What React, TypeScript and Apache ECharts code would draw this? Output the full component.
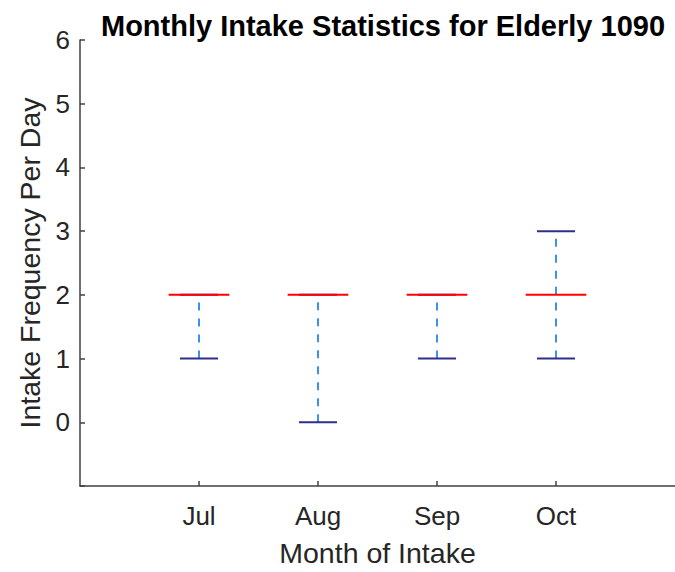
import React, { useEffect, useRef } from "react";
import * as echarts from "echarts";

const months = ["Jul", "Aug", "Sep", "Oct"];
const minVals = [1, 0, 1, 1];
const q1Vals = [2, 2, 2, 2];
const medianVals = [2, 2, 2, 2];
const q3Vals = [2, 2, 2, 2];
const maxVals = [2, 2, 2, 3];
const yTicks = [0, 1, 2, 3, 4, 5, 6];

const TEXT = "#262626";
const AXIS = "#404040";

export default function App() {
  const ref = useRef<HTMLDivElement>(null);
  useEffect(() => {
    if (!ref.current) return;
    const chart = echarts.init(ref.current, null, { renderer: "svg" });
    const data = months.map((_, i) => [
      i + 1,
      minVals[i],
      q1Vals[i],
      medianVals[i],
      q3Vals[i],
      maxVals[i],
    ]);
    const xTickPositions = months.map((_, i) => i + 1);
    const option = {
      animation: false,
      backgroundColor: "#ffffff",
      title: {
        text: "Monthly Intake Statistics for Elderly 1090",
        left: 378,
        textAlign: "center",
        top: 6,
        textStyle: {
          fontFamily: "Liberation Sans",
          fontWeight: "bold",
          fontSize: 29,
          color: "#000000",
        },
      },
      grid: { left: 80, right: -1, top: 40, bottom: 82 },
      xAxis: {
        type: "value",
        min: 0,
        max: 5,
        interval: 1,
        name: "Month of Intake",
        nameLocation: "middle",
        nameGap: 52,
        nameTextStyle: { fontFamily: "Liberation Sans", fontSize: 28.5, color: TEXT },
        axisLine: { show: true, onZero: false, lineStyle: { color: AXIS, width: 1.5 } },
        axisTick: {
          show: true,
          inside: true,
          length: 5,
          customValues: xTickPositions,
          lineStyle: { color: AXIS, width: 1.5 },
        },
        axisLabel: {
          margin: 17,
          fontFamily: "Liberation Sans",
          fontSize: 26,
          color: TEXT,
          customValues: xTickPositions,
          formatter: (v: number) => (v >= 1 && v <= months.length ? months[v - 1] : ""),
        },
        splitLine: { show: false },
      },
      yAxis: {
        type: "value",
        min: -1,
        max: 6,
        interval: 1,
        name: "Intake Frequency Per Day",
        nameLocation: "middle",
        nameGap: 34,
        nameTextStyle: { fontFamily: "Liberation Sans", fontSize: 28.5, color: TEXT },
        axisLine: { show: true, onZero: false, lineStyle: { color: AXIS, width: 1.5 } },
        axisTick: { show: true, inside: true, length: 5, lineStyle: { color: AXIS, width: 1.5 } },
        axisLabel: {
          margin: 10,
          fontFamily: "Liberation Sans",
          fontSize: 26,
          color: TEXT,
          formatter: (v: number) => (yTicks.indexOf(v) >= 0 ? String(v) : ""),
        },
        splitLine: { show: false },
      },
      series: [
        {
          type: "custom",
          data,
          clip: false,
          renderItem: (params: any, api: any) => {
            const x = api.value(0);
            const mn = api.value(1);
            const q1 = api.value(2);
            const md = api.value(3);
            const q3 = api.value(4);
            const mx = api.value(5);
            const pMin = api.coord([x, mn]);
            const pQ1 = api.coord([x, q1]);
            const pMd = api.coord([x, md]);
            const pQ3 = api.coord([x, q3]);
            const pMax = api.coord([x, mx]);
            const boxW = api.size([0.51, 0])[0];
            const capW = api.size([0.32, 0])[0];
            const cx = pMd[0];
            const children: any[] = [];
            const whisker = { stroke: "#3f8fee", lineWidth: 2, lineDash: [8, 8], fill: null };
            if (mn < q1) {
              children.push({
                type: "line",
                shape: { x1: cx, y1: pMin[1], x2: cx, y2: pQ1[1] },
                style: whisker,
              });
            }
            if (mx > q3) {
              children.push({
                type: "line",
                shape: { x1: cx, y1: pQ3[1], x2: cx, y2: pMax[1] },
                style: whisker,
              });
            }
            if (q3 > q1) {
              children.push({
                type: "rect",
                shape: { x: cx - boxW / 2, y: pQ3[1], width: boxW, height: pQ1[1] - pQ3[1] },
                style: { stroke: "#0000ff", fill: null, lineWidth: 1.5 },
              });
            }
            const cap = { stroke: "#2e2e8c", lineWidth: 2 };
            children.push({
              type: "line",
              shape: { x1: cx - capW / 2, y1: pMin[1], x2: cx + capW / 2, y2: pMin[1] },
              style: cap,
            });
            children.push({
              type: "line",
              shape: { x1: cx - capW / 2, y1: pMax[1], x2: cx + capW / 2, y2: pMax[1] },
              style: cap,
            });
            children.push({
              type: "line",
              shape: { x1: cx - boxW / 2, y1: pMd[1], x2: cx + boxW / 2, y2: pMd[1] },
              style: { stroke: "#ff0000", lineWidth: 2 },
            });
            return { type: "group", children };
          },
        },
      ],
    };
    chart.setOption(option as any);
    return () => chart.dispose();
  }, []);
  return (
    <div
      ref={ref}
      style={{ position: "fixed", left: 0, top: 0, width: 675, height: 572, background: "#fff" }}
    />
  );
}
